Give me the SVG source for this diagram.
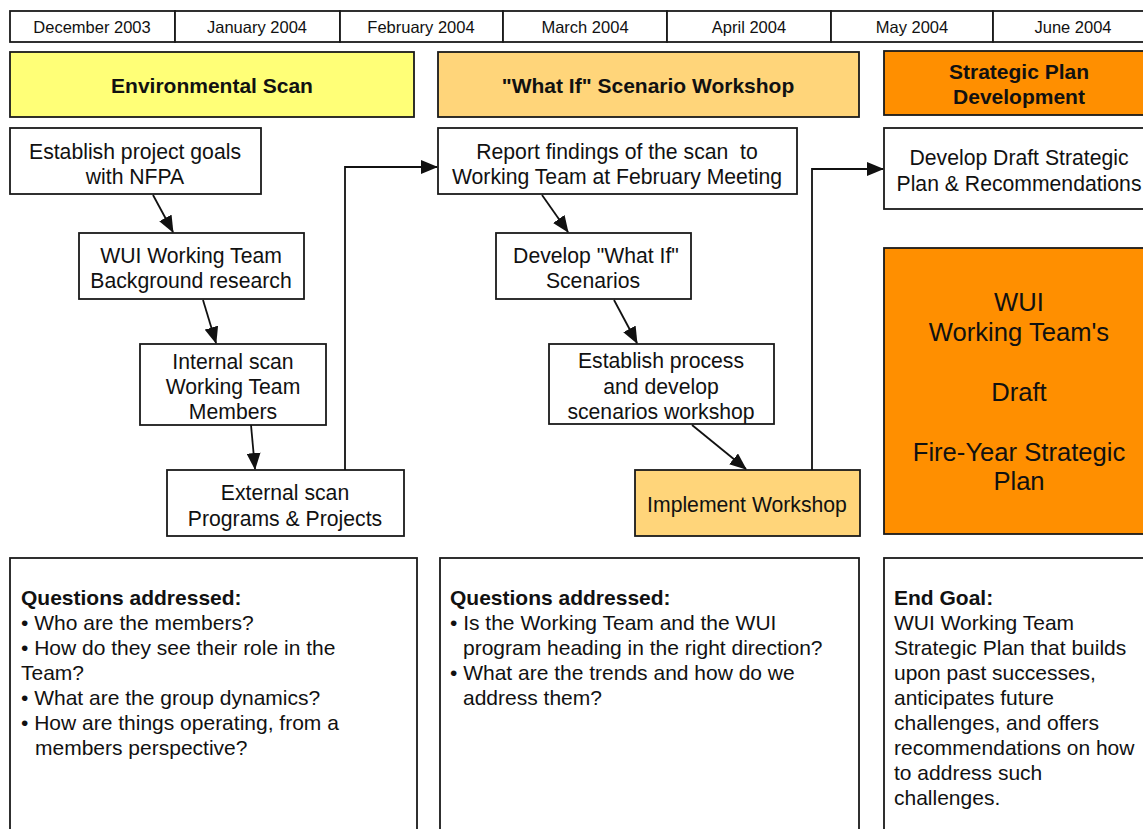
<svg xmlns="http://www.w3.org/2000/svg" width="1143" height="829" viewBox="0 0 1143 829">
<style>
.b{fill:#fff;stroke:#1a1a1a;stroke-width:1.8}
.m{font-family:"Liberation Sans",Arial,sans-serif;font-size:16.5px;fill:#111;text-anchor:middle}
.h{font-family:"Liberation Sans",Arial,sans-serif;font-size:21px;font-weight:bold;fill:#111;text-anchor:middle}
.t{font-family:"Liberation Sans",Arial,sans-serif;font-size:21.2px;fill:#111;text-anchor:middle}
.big{font-family:"Liberation Sans",Arial,sans-serif;font-size:25.6px;fill:#111;text-anchor:middle}
.q{font-family:"Liberation Sans",Arial,sans-serif;font-size:21px;fill:#111}
.qb{font-weight:bold}
.c{fill:none;stroke:#111;stroke-width:1.8}
</style>
<defs>
<marker id="ah" markerUnits="userSpaceOnUse" markerWidth="18" markerHeight="14" refX="16" refY="7" orient="auto">
<path d="M0,0 L17,7 L0,14 Z" fill="#111"/>
</marker>
</defs>
<rect width="1143" height="829" fill="#fff"/>

<g id="months">
<rect class="b" x="10" y="11" width="165" height="31"/>
<rect class="b" x="175" y="11" width="165" height="31"/>
<rect class="b" x="340" y="11" width="163" height="31"/>
<rect class="b" x="503" y="11" width="164" height="31"/>
<rect class="b" x="667" y="11" width="164" height="31"/>
<rect class="b" x="831" y="11" width="162" height="31"/>
<rect class="b" x="993" y="11" width="160" height="31"/>
<text class="m" x="92" y="33">December 2003</text>
<text class="m" x="257" y="33">January 2004</text>
<text class="m" x="421" y="33">February 2004</text>
<text class="m" x="585" y="33">March 2004</text>
<text class="m" x="749" y="33">April 2004</text>
<text class="m" x="912" y="33">May 2004</text>
<text class="m" x="1073" y="33">June 2004</text>
</g>

<g id="hdr-env">
<rect class="b" x="10" y="52" width="404" height="65" style="fill:#ffff77"/>
<text class="h" x="212" y="93">Environmental Scan</text>
</g>
<g id="hdr-whatif">
<rect class="b" x="438" y="52" width="421" height="65" style="fill:#ffd57a"/>
<text class="h" x="648" y="93">"What If" Scenario Workshop</text>
</g>
<g id="hdr-strategic">
<rect class="b" x="884" y="51" width="270" height="64" style="fill:#ff8f00"/>
<text class="h" x="1019" y="79">Strategic Plan</text>
<text class="h" x="1019" y="104">Development</text>
</g>

<g id="n-goals">
<rect class="b" x="10" y="128" width="251" height="66"/>
<text class="t" x="135" y="159">Establish project goals</text>
<text class="t" x="135" y="184">with NFPA</text>
</g>
<g id="n-background">
<rect class="b" x="79" y="233" width="225" height="66"/>
<text class="t" x="191" y="263">WUI Working Team</text>
<text class="t" x="191" y="288">Background research</text>
</g>
<g id="n-internal">
<rect class="b" x="140" y="344" width="186" height="81"/>
<text class="t" x="233" y="369">Internal scan</text>
<text class="t" x="233" y="394">Working Team</text>
<text class="t" x="233" y="419">Members</text>
</g>
<g id="n-external">
<rect class="b" x="167" y="470" width="237" height="66"/>
<text class="t" x="285" y="500">External scan</text>
<text class="t" x="285" y="526">Programs &amp; Projects</text>
</g>
<g id="n-report">
<rect class="b" x="438" y="128" width="359" height="66"/>
<text class="t" x="617" y="159">Report findings of the scan&#160; to</text>
<text class="t" x="617" y="184">Working Team at February Meeting</text>
</g>
<g id="n-develop-whatif">
<rect class="b" x="496" y="233" width="195" height="66"/>
<text class="t" x="596" y="263">Develop "What If"</text>
<text class="t" x="593" y="288">Scenarios</text>
</g>
<g id="n-establish-process">
<rect class="b" x="549" y="344" width="225" height="80"/>
<text class="t" x="661" y="368">Establish process</text>
<text class="t" x="661" y="394">and develop</text>
<text class="t" x="661" y="419">scenarios workshop</text>
</g>
<g id="n-implement">
<rect class="b" x="635" y="470" width="225" height="66" style="fill:#ffd57a"/>
<text class="t" x="747" y="512">Implement Workshop</text>
</g>
<g id="n-draft-plan">
<rect class="b" x="884" y="128" width="270" height="81"/>
<text class="t" x="1019" y="165">Develop Draft Strategic</text>
<text class="t" x="1019" y="191">Plan &amp; Recommendations</text>
</g>
<g id="n-final">
<rect class="b" x="884" y="248" width="270" height="286" style="fill:#ff8f00"/>
<text class="big" x="1019" y="311">WUI</text>
<text class="big" x="1019" y="341">Working Team's</text>
<text class="big" x="1019" y="401">Draft</text>
<text class="big" x="1019" y="461">Fire-Year Strategic</text>
<text class="big" x="1019" y="490">Plan</text>
</g>

<g id="q-env">
<rect class="b" x="10" y="558" width="407" height="290"/>
<text class="q" x="21" y="605"><tspan class="qb">Questions addressed:</tspan></text>
<text class="q" x="21" y="630">• Who are the members?</text>
<text class="q" x="21" y="655">• How do they see their role in the</text>
<text class="q" x="21" y="680">Team?</text>
<text class="q" x="21" y="705">• What are the group dynamics?</text>
<text class="q" x="21" y="730">• How are things operating, from a</text>
<text class="q" x="35" y="755">members perspective?</text>
</g>
<g id="q-whatif">
<rect class="b" x="440" y="558" width="419" height="290"/>
<text class="q" x="450" y="605"><tspan class="qb">Questions addressed:</tspan></text>
<text class="q" x="450" y="630">• Is the Working Team and the WUI</text>
<text class="q" x="463" y="655">program heading in the right direction?</text>
<text class="q" x="450" y="680">• What are the trends and how do we</text>
<text class="q" x="463" y="705">address them?</text>
</g>
<g id="q-goal">
<rect class="b" x="884" y="558" width="270" height="290"/>
<text class="q" x="894" y="605"><tspan class="qb">End Goal:</tspan></text>
<text class="q" x="894" y="630">WUI Working Team</text>
<text class="q" x="894" y="655">Strategic Plan that builds</text>
<text class="q" x="894" y="680">upon past successes,</text>
<text class="q" x="894" y="705">anticipates future</text>
<text class="q" x="894" y="730">challenges, and offers</text>
<text class="q" x="894" y="755">recommendations on how</text>
<text class="q" x="894" y="780">to address such</text>
<text class="q" x="894" y="805">challenges.</text>
</g>

<g id="connectors">
<line class="c" x1="153" y1="195" x2="173" y2="232" marker-end="url(#ah)"/>
<line class="c" x1="203" y1="300" x2="216" y2="343" marker-end="url(#ah)"/>
<line class="c" x1="251" y1="425" x2="255" y2="469" marker-end="url(#ah)"/>
<polyline class="c" points="345,470 345,167 437,167" marker-end="url(#ah)"/>
<line class="c" x1="542" y1="195" x2="568" y2="232" marker-end="url(#ah)"/>
<line class="c" x1="614" y1="300" x2="637" y2="343" marker-end="url(#ah)"/>
<line class="c" x1="692" y1="425" x2="746" y2="469" marker-end="url(#ah)"/>
<polyline class="c" points="812,470 812,169 883,169" marker-end="url(#ah)"/>
</g>
</svg>
